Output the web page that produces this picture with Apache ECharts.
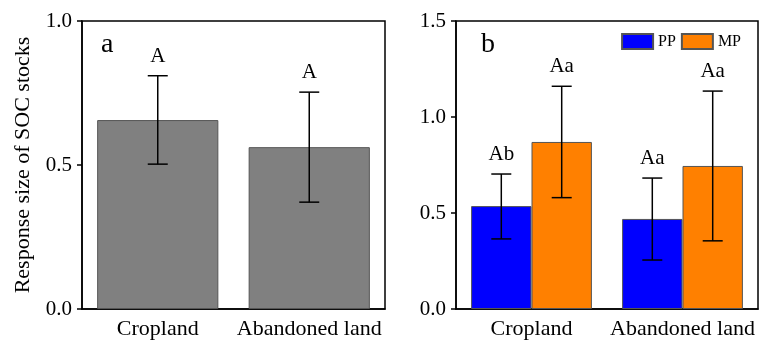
<!DOCTYPE html>
<html>
<head>
<meta charset="utf-8">
<script src="https://cdn.jsdelivr.net/npm/echarts@6/dist/echarts.min.js"></script>
<style>
  html, body { margin: 0; padding: 0; background: #fff; }
  #chart { width: 760px; height: 342px; }
</style>
</head>
<body>
<div id="chart"></div>
<script>
// data
const categories = ['Cropland', 'Abandoned land'];

// panel a: all data
const socMean = [0.656, 0.562];
const socLow = [0.503, 0.371];
const socHigh = [0.81, 0.753];
const socLetters = ['A', 'A'];

// panel b: PP and MP
const ppMean = [0.536, 0.469];
const ppLow = [0.365, 0.255];
const ppHigh = [0.703, 0.682];
const ppLetters = ['Ab', 'Aa'];

const mpMean = [0.87, 0.745];
const mpLow = [0.58, 0.355];
const mpHigh = [1.16, 1.135];
const mpLetters = ['Aa', 'Aa'];

const serif = '"Liberation Serif", serif';

function errRows(low, high) {
  return low.map(function (v, i) { return [i, v, high[i]]; });
}

// error bar + letter, shift is the bar offset as a share of the band
function errorBar(shift, letters) {
  return function (params, api) {
    const i = api.value(0);
    const band = api.size([1, 0])[0];
    const hi = api.coord([i, api.value(2)]);
    const lo = api.coord([i, api.value(1)]);
    const x = hi[0] + band * shift;
    const st = { stroke: '#000', lineWidth: 1.5 };
    return {
      type: 'group',
      children: [
        { type: 'line', shape: { x1: x, y1: hi[1], x2: x, y2: lo[1] }, style: st },
        { type: 'line', shape: { x1: x - 10, y1: hi[1], x2: x + 10, y2: hi[1] }, style: st },
        { type: 'line', shape: { x1: x - 10, y1: lo[1], x2: x + 10, y2: lo[1] }, style: st },
        {
          type: 'text', x: x, y: hi[1] - 9,
          style: {
            text: letters[params.dataIndex], fill: '#000',
            font: '21px ' + serif, align: 'center', verticalAlign: 'bottom'
          }
        }
      ]
    };
  };
}

function xAx(gridIndex) {
  return {
    type: 'category', gridIndex: gridIndex, data: categories,
    axisLine: { lineStyle: { color: '#000', width: 1.5 } },
    axisTick: { alignWithLabel: true, length: 5, lineStyle: { color: '#000', width: 1.5 } },
    axisLabel: {
      color: '#000', fontSize: 22, fontFamily: serif, margin: 9,
      interval: 0, hideOverlap: false
    }
  };
}

function yAx(gridIndex, max, name) {
  return {
    type: 'value', gridIndex: gridIndex, min: 0, max: max, interval: 0.5,
    name: name, nameLocation: 'middle', nameGap: 48,
    nameTextStyle: { color: '#000', fontSize: 22, fontFamily: serif },
    splitLine: { show: false },
    axisLine: { show: true, lineStyle: { color: '#000', width: 1.5 } },
    axisTick: { show: true, length: 5, lineStyle: { color: '#000', width: 1.5 } },
    axisLabel: {
      color: '#000', fontSize: 21, fontFamily: serif, margin: 10,
      formatter: function (v) { return v.toFixed(1); }
    }
  };
}

const chart = echarts.init(document.getElementById('chart'));
chart.setOption({
  animation: false,
  backgroundColor: '#fff',
  textStyle: { fontFamily: serif },
  title: [
    { text: 'a', left: 96, top: 26, textStyle: { fontSize: 28, fontWeight: 'normal', color: '#000', fontFamily: serif } },
    { text: 'b', left: 476, top: 26, textStyle: { fontSize: 28, fontWeight: 'normal', color: '#000', fontFamily: serif } }
  ],
  legend: {
    data: ['PP', 'MP'], right: 14, top: 28, icon: 'rect',
    itemWidth: 31, itemHeight: 15, itemGap: 5,
    textStyle: { color: '#000', fontSize: 16, fontFamily: serif }
  },
  grid: [
    { left: 82, right: 375, top: 21, bottom: 33, show: true, borderColor: '#000', borderWidth: 1.5 },
    { left: 456, right: 2, top: 21, bottom: 33, show: true, borderColor: '#000', borderWidth: 1.5 }
  ],
  xAxis: [xAx(0), xAx(1)],
  yAxis: [yAx(0, 1, 'Response size of SOC stocks'), yAx(1, 1.5, '')],
  series: [
    {
      name: 'SOC', type: 'bar', xAxisIndex: 0, yAxisIndex: 0, data: socMean,
      barCategoryGap: '20%',
      itemStyle: { color: '#808080', borderColor: '#555', borderWidth: 1 }
    },
    {
      type: 'custom', xAxisIndex: 0, yAxisIndex: 0, z: 5,
      data: errRows(socLow, socHigh), renderItem: errorBar(0, socLetters)
    },
    {
      name: 'PP', type: 'bar', xAxisIndex: 1, yAxisIndex: 1, data: ppMean,
      barGap: '0%', barCategoryGap: '20%',
      itemStyle: { color: '#0000ff', borderColor: '#555', borderWidth: 1 }
    },
    {
      name: 'MP', type: 'bar', xAxisIndex: 1, yAxisIndex: 1, data: mpMean,
      barGap: '0%', barCategoryGap: '20%',
      itemStyle: { color: '#ff8000', borderColor: '#555', borderWidth: 1 }
    },
    {
      type: 'custom', xAxisIndex: 1, yAxisIndex: 1, z: 5,
      data: errRows(ppLow, ppHigh), renderItem: errorBar(-0.2, ppLetters)
    },
    {
      type: 'custom', xAxisIndex: 1, yAxisIndex: 1, z: 5,
      data: errRows(mpLow, mpHigh), renderItem: errorBar(0.2, mpLetters)
    }
  ]
});
</script>
</body>
</html>
